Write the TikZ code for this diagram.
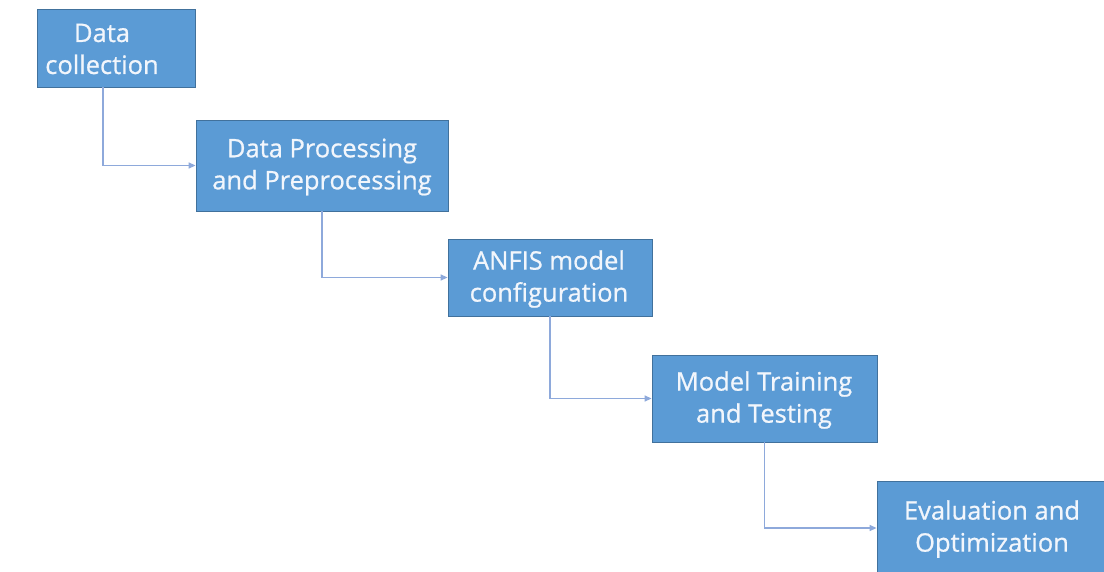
\documentclass[tikz,border=0pt]{standalone}
\usepackage{fontspec}
\setmainfont{Open Sans}
\newfontfamily\boxfont{Open Sans}[FakeBold=0.8]
\usetikzlibrary{arrows.meta}
\definecolor{boxfill}{HTML}{5B9BD5}
\definecolor{boxline}{HTML}{41719C}
\definecolor{conn}{HTML}{8EA9DB}
\definecolor{txtcol}{HTML}{F2F6FC}
\begin{document}
\begin{tikzpicture}[x=1pt,y=-1pt,
  stepbox/.style={draw=boxline, line width=0.8pt, fill=boxfill, rectangle, inner sep=0pt},
  txt/.style={text=txtcol, align=center, font=\boxfont\fontsize{25.5}{32}\selectfont, inner sep=0pt},
  conn/.style={draw=conn, line width=1.3pt, -{Triangle[length=7pt,width=6pt]}}]
\useasboundingbox (0,0) rectangle (1104,571);
\clip (0,0) rectangle (1104,571);
\node[stepbox, minimum width=158pt, minimum height=78pt] (b1) at (116,48) {};
\node[txt] (t1) at (102,49) {Data\\collection};
\node[stepbox, minimum width=252pt, minimum height=91pt] (b2) at (322,165.5) {};
\node[txt] (t2) at (322,167) {Data Processing\\and Preprocessing};
\node[stepbox, minimum width=204pt, minimum height=77pt] (b3) at (550,277.5) {};
\node[txt] (t3) at (549,279) {ANFIS model\\configuration};
\node[stepbox, minimum width=225pt, minimum height=87pt] (b4) at (764.5,398.5) {};
\node[txt] (t4) at (764,400) {Model Training\\and Testing};
\node[stepbox, minimum width=228pt, minimum height=94pt] (b5) at (991,528) {};
\node[txt] (t5) at (992,529) {Evaluation and\\Optimization};
\coordinate (c1) at (103,87);
\draw[conn] (c1) |- (b2.west);
\draw[conn] (b2.south) |- (b3.west);
\draw[conn] (b3.south) |- (b4.west);
\draw[conn] (b4.south) |- (b5.west);
\end{tikzpicture}
\end{document}
